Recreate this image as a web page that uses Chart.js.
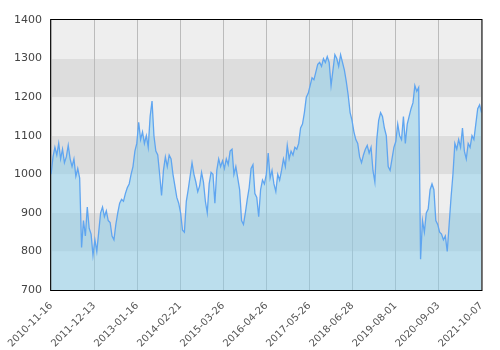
<!DOCTYPE html>
<html>
<head>
<meta charset="utf-8">
<script src="https://cdn.jsdelivr.net/npm/chart.js@4/dist/chart.umd.min.js"></script>
<style>
	html, body { margin: 0; padding: 0; background: #fff; }
	canvas { display: block; }
</style>
</head>
<body>
<canvas id="chart" width="500" height="350"></canvas>
<script>
// tick labels along the x axis (one per gridline)
var dateLabels = ['2010-11-16', '2011-12-13', '2013-01-16', '2014-02-21', '2015-03-26', '2016-04-26',
	'2017-05-26', '2018-06-28', '2019-08-01', '2020-09-03', '2021-10-07'];

// index value at even steps from first to last label
var indexValues = [
	1000, 1045, 1070, 1050, 1080, 1040, 1065, 1030, 1045, 1075,
	1040, 1020, 1040, 995, 1015, 990, 810, 880, 840, 915,
	860, 845, 790, 830, 800, 850, 900, 915, 890, 905,
	880, 875, 840, 830, 870, 900, 925, 935, 930, 950,
	965, 975, 1000, 1020, 1060, 1080, 1135, 1090, 1110, 1080,
	1100, 1070, 1150, 1190, 1100, 1060, 1050, 1000, 945, 1010,
	1045, 1020, 1050, 1040, 1000, 970, 940, 925, 900, 855,
	850, 930, 960, 995, 1030, 1000, 980, 955, 970, 1005,
	980, 930, 900, 975, 1005, 1000, 925, 1010, 1040, 1020,
	1035, 1015, 1040, 1025, 1060, 1065, 1000, 1020, 990, 960,
	880, 870, 900, 935, 965, 1015, 1025, 950, 940, 890,
	960, 985, 975, 1000, 1055, 990, 1010, 975, 955, 1000,
	985, 1010, 1040, 1020, 1075, 1040, 1060, 1050, 1070, 1065,
	1080, 1120, 1130, 1160, 1200, 1210, 1230, 1250, 1245, 1265,
	1285, 1290, 1280, 1300, 1290, 1305, 1290, 1230, 1270, 1310,
	1300, 1280, 1310, 1290, 1270, 1240, 1205, 1160, 1140, 1110,
	1090, 1080, 1045, 1030, 1050, 1065, 1075, 1055, 1070, 1010,
	980, 1090, 1140, 1160, 1150, 1120, 1100, 1020, 1010, 1040,
	1070, 1085, 1130, 1100, 1090, 1150, 1080, 1130, 1150, 1170,
	1185, 1230, 1215, 1225, 780, 880, 850, 900, 910, 960,
	975, 960, 880, 870, 850, 845, 830, 840, 800, 870,
	940, 1000, 1080, 1065, 1090, 1070, 1120, 1060, 1040, 1080,
	1070, 1100, 1090, 1130, 1170, 1180, 1160
];

var yMin = 700, yMax = 1400, yStep = 100;

var lastTick = dateLabels.length - 1;
var points = indexValues.map(function (v, i) {
	return { x: i * lastTick / (indexValues.length - 1), y: v };
});

// striped background behind the plot, and a black frame round it
var plotFrame = {
	id: 'plotFrame',
	beforeDraw: function (chart) {
		var ctx = chart.ctx, area = chart.chartArea, y = chart.scales.y;
		ctx.save();
		for (var v = yMin, k = 0; v < yMax; v += yStep, k++) {
			var top = y.getPixelForValue(v + yStep);
			var bottom = y.getPixelForValue(v);
			ctx.fillStyle = (k % 2 == 0) ? '#eeeeee' : '#dddddd';
			ctx.fillRect(area.left, top, area.right - area.left, bottom - top);
		}
		ctx.restore();
	},
	afterDraw: function (chart) {
		var ctx = chart.ctx, area = chart.chartArea;
		ctx.save();
		ctx.strokeStyle = '#000';
		ctx.lineWidth = 1;
		ctx.strokeRect(area.left - 0.5, area.top - 0.5, area.right - area.left + 1, area.bottom - area.top + 1);
		ctx.restore();
	}
};

const chart = new Chart(document.getElementById('chart'), {
	type: 'line',
	data: {
		datasets: [{
			data: points,
			borderColor: 'rgb(95, 165, 240)',
			borderWidth: 1.3,
			backgroundColor: 'rgba(135, 206, 235, 0.5)',
			fill: 'start',
			pointRadius: 0,
			tension: 0
		}]
	},
	options: {
		responsive: false,
		animation: false,
		maintainAspectRatio: false,
		layout: { padding: { top: 20, right: 2, left: 0, bottom: 0 } },
		plugins: {
			legend: { display: false },
			tooltip: { enabled: false }
		},
		scales: {
			x: {
				type: 'linear',
				min: 0,
				max: lastTick,
				afterFit: function (s) { s.height = 60; },
				grid: { color: '#bbbbbb', drawTicks: false },
				border: { display: false },
				ticks: {
					stepSize: 1,
					autoSkip: false,
					maxRotation: 45,
					minRotation: 45,
					padding: 10,
					color: '#555',
					font: { family: 'DejaVu Sans', size: 10 },
					callback: function (v) { return dateLabels[v]; }
				}
			},
			y: {
				min: yMin,
				max: yMax,
				afterFit: function (s) { s.width = 45; },
				grid: { display: false, drawTicks: false },
				border: { display: false },
				ticks: {
					stepSize: yStep,
					autoSkip: false,
					padding: 9,
					color: '#444',
					font: { family: 'DejaVu Sans', size: 11 },
					callback: function (v) { return String(v); }
				}
			}
		}
	},
	plugins: [plotFrame]
});
</script>
</body>
</html>
